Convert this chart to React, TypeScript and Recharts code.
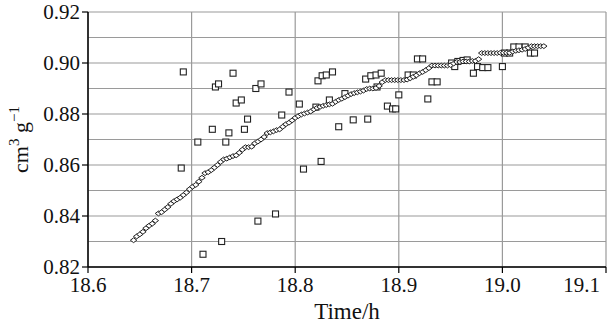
import React from "react";
import {
  ScatterChart,
  Scatter,
  XAxis,
  YAxis,
  CartesianGrid,
  Label,
} from "recharts";

// x ticks (h) and y ticks (cm3/g)
const xTicks = [18.6, 18.7, 18.8, 18.9, 19.0, 19.1];
const yTicks = [0.82, 0.83, 0.84, 0.85, 0.86, 0.87, 0.88, 0.89, 0.9, 0.91, 0.92];

// open squares
const squareTimes = [
  18.69, 18.692, 18.706, 18.711, 18.72, 18.723, 18.726, 18.729, 18.733, 18.736,
  18.74, 18.743, 18.748, 18.751, 18.754, 18.762, 18.764, 18.767, 18.781, 18.787,
  18.794, 18.804, 18.808, 18.82, 18.822, 18.825, 18.826, 18.83, 18.833, 18.836,
  18.842, 18.848, 18.856, 18.868, 18.87, 18.873, 18.878, 18.879, 18.883, 18.889,
  18.894, 18.897, 18.9, 18.909, 18.914, 18.918, 18.923, 18.928, 18.932, 18.937,
  18.951, 18.954, 18.957, 18.962, 18.966, 18.972, 18.976, 18.981, 18.986, 19.0,
  19.002, 19.007, 19.011, 19.016, 19.022, 19.027, 19.031,
];
const squareValues = [
  0.8588, 0.8965, 0.869, 0.825, 0.874, 0.8906, 0.8918, 0.83, 0.869, 0.8726,
  0.896, 0.8843, 0.8855, 0.874, 0.878, 0.89, 0.838, 0.8918, 0.8408, 0.8796,
  0.8886, 0.8839, 0.8584, 0.8827, 0.893, 0.8614, 0.895, 0.8953, 0.8855, 0.8965,
  0.875, 0.888, 0.8777, 0.8937, 0.878, 0.895, 0.8953, 0.8906, 0.896, 0.8831,
  0.882, 0.882, 0.8875, 0.8953, 0.8953, 0.9016, 0.9016, 0.8859, 0.8926, 0.8926,
  0.9, 0.8986, 0.9006, 0.901, 0.9012, 0.896, 0.8986, 0.8982, 0.8982, 0.8986,
  0.9039, 0.9039, 0.9063, 0.9063, 0.9063, 0.9039, 0.9039,
];

// open diamonds
const diamondTimes = [
  18.644, 18.647, 18.65, 18.653, 18.656, 18.659, 18.662, 18.665, 18.668, 18.671,
  18.674, 18.677, 18.68, 18.683, 18.686, 18.689, 18.692, 18.695, 18.698, 18.701,
  18.704, 18.707, 18.71, 18.713, 18.716, 18.719, 18.722, 18.725, 18.728, 18.731,
  18.734, 18.737, 18.74, 18.743, 18.746, 18.749, 18.752, 18.755, 18.758, 18.761,
  18.764, 18.767, 18.77, 18.773, 18.776, 18.779, 18.782, 18.785, 18.788, 18.791,
  18.794, 18.797, 18.8, 18.803, 18.806, 18.809, 18.812, 18.815, 18.818, 18.821,
  18.824, 18.827, 18.83, 18.833, 18.836, 18.839, 18.842, 18.845, 18.848, 18.851,
  18.854, 18.857, 18.86, 18.863, 18.866, 18.869, 18.872, 18.875, 18.878, 18.881,
  18.884, 18.887, 18.89, 18.893, 18.896, 18.899, 18.902, 18.905, 18.908, 18.911,
  18.914, 18.917, 18.92, 18.923, 18.926, 18.929, 18.932, 18.935, 18.938, 18.941,
  18.944, 18.947, 18.95, 18.953, 18.956, 18.959, 18.962, 18.965, 18.968, 18.971,
  18.974, 18.977, 18.98, 18.983, 18.986, 18.989, 18.992, 18.995, 18.998, 19.001,
  19.004, 19.007, 19.01, 19.013, 19.016, 19.019, 19.022, 19.025, 19.028, 19.031,
  19.034, 19.037, 19.04,
];
const diamondValues = [
  0.8305, 0.832, 0.8328, 0.8338, 0.8352, 0.8362, 0.837, 0.8382, 0.841, 0.8415,
  0.8425, 0.8435, 0.8448, 0.8458, 0.8465, 0.8472, 0.8482, 0.8492, 0.8505, 0.8515,
  0.8522, 0.8535, 0.855, 0.8568, 0.8572, 0.858, 0.859, 0.86, 0.8612, 0.8622,
  0.8625, 0.863, 0.8635, 0.8638, 0.8648, 0.866, 0.867, 0.867, 0.8672, 0.8685,
  0.8692, 0.87, 0.871, 0.8725, 0.8728, 0.8732, 0.8737, 0.874, 0.875, 0.876,
  0.8766, 0.8775, 0.8785, 0.8792, 0.8798, 0.8802, 0.8806, 0.881, 0.8818, 0.8824,
  0.8828, 0.8832, 0.8835, 0.8838, 0.884, 0.8848, 0.8855, 0.886, 0.8866, 0.8872,
  0.8878, 0.8882, 0.8885, 0.8888, 0.8892, 0.8898, 0.89, 0.89, 0.8902, 0.891,
  0.8925, 0.8933, 0.8933, 0.8933, 0.8933, 0.8933, 0.8933, 0.8933, 0.8935, 0.894,
  0.8946, 0.8952, 0.896, 0.8965, 0.8972, 0.898, 0.899, 0.899, 0.899, 0.899,
  0.899, 0.899, 0.8992, 0.8998, 0.9004, 0.9004, 0.9006, 0.9006, 0.9006, 0.9008,
  0.9008, 0.9015, 0.9039, 0.9039, 0.9039, 0.9039, 0.9039, 0.9039, 0.904, 0.904,
  0.904, 0.904, 0.9045, 0.9048, 0.905, 0.9052, 0.9055, 0.906, 0.9066, 0.9066,
  0.9066, 0.9066, 0.9066,
];

const squares = squareTimes.map((t, i) => ({ t, v: squareValues[i] }));
const diamonds = diamondTimes.map((t, i) => ({ t, v: diamondValues[i] }));

const FONT = "Liberation Serif";
const INK = "#222";
const textStyle = { fontFamily: FONT, fontSize: 21, fill: "#111" };

const SquareDot = (props: any) => {
  const { cx, cy } = props;
  if (cx == null || cy == null) return null;
  return (
    <rect x={cx - 3} y={cy - 3} width={6} height={6} fill="#fff" stroke={INK} strokeWidth={1.1} />
  );
};

const DiamondDot = (props: any) => {
  const { cx, cy } = props;
  if (cx == null || cy == null) return null;
  return (
    <polygon
      points={`${cx - 3.2},${cy} ${cx},${cy - 2.4} ${cx + 3.2},${cy} ${cx},${cy + 2.4}`}
      fill="#fff"
      stroke={INK}
      strokeWidth={1}
    />
  );
};

const XTick = (props: any) => {
  const { x, y, payload, index } = props;
  const last = index === xTicks.length - 1;
  return (
    <text
      x={last ? x + 1 : x}
      y={y}
      dy="0.8em"
      textAnchor={last ? "end" : "middle"}
      style={textStyle}
    >
      {payload.value.toFixed(1)}
    </text>
  );
};

const YTick = (props: any) => {
  const { x, y, payload, index } = props;
  if (index % 2 !== 0) return null;
  return (
    <g>
      <line x1={x + 2} x2={x + 8} y1={y} y2={y} stroke="#000" strokeWidth={1.2} />
      <text x={x} y={y} dy="0.35em" textAnchor="end" style={textStyle}>
        {payload.value.toFixed(2)}
      </text>
    </g>
  );
};

const YLabel = (props: any) => {
  const { viewBox } = props;
  const cx = 28;
  const cy = viewBox.y + viewBox.height / 2;
  return (
    <text
      transform={`translate(${cx},${cy}) rotate(-90)`}
      textAnchor="middle"
      style={{ fontFamily: FONT, fontSize: 22, fill: "#111" }}
    >
      cm
      <tspan fontSize={15} dy={-9}>3</tspan>
      <tspan fontSize={22} dy={9}> g</tspan>
      <tspan fontSize={15} dy={-9}>−1</tspan>
    </text>
  );
};

export default function App() {
  return (
    <div style={{ position: "absolute", left: 0, top: 0, background: "#fff", fontFamily: FONT }}>
      <ScatterChart
        width={613}
        height={323}
        margin={{ top: 12, right: 7, bottom: 0, left: 0 }}
      >
        <CartesianGrid stroke="#9a9a9a" strokeWidth={1.2} />
        <XAxis
          dataKey="t"
          type="number"
          domain={[18.6, 19.1]}
          ticks={xTicks}
          tick={<XTick />}
          tickSize={6}
          axisLine={{ stroke: "#000", strokeWidth: 1.5 }}
          tickLine={{ stroke: "#000", strokeWidth: 1.2 }}
          height={56}
          allowDataOverflow
        >
          <Label
            value="Time/h"
            position="insideBottom"
            offset={4}
            style={{ fontFamily: FONT, fontSize: 23, fill: "#111" }}
          />
        </XAxis>
        <XAxis
          xAxisId="top"
          orientation="top"
          type="number"
          domain={[18.6, 19.1]}
          ticks={xTicks}
          tick={false}
          tickLine={false}
          axisLine={{ stroke: "#000", strokeWidth: 1.5 }}
          height={0}
        />
        <YAxis
          dataKey="v"
          type="number"
          domain={[0.82, 0.92]}
          ticks={yTicks}
          tick={<YTick />}
          tickLine={false}
          tickSize={6}
          axisLine={{ stroke: "#000", strokeWidth: 1.5 }}
          width={88}
          allowDataOverflow
        >
          <Label content={<YLabel />} />
        </YAxis>
        <YAxis
          yAxisId="right"
          orientation="right"
          type="number"
          domain={[0.82, 0.92]}
          ticks={yTicks}
          tick={false}
          tickLine={false}
          axisLine={{ stroke: "#000", strokeWidth: 1.5 }}
          width={0}
        />
        <Scatter data={squares} shape={<SquareDot />} isAnimationActive={false} />
        <Scatter data={diamonds} shape={<DiamondDot />} isAnimationActive={false} />
      </ScatterChart>
    </div>
  );
}
